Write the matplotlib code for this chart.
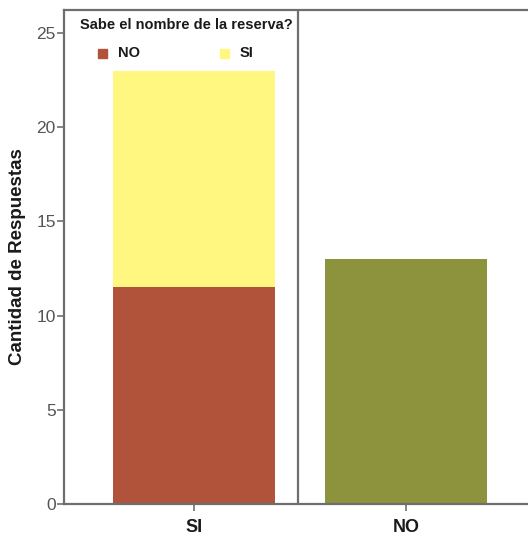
import matplotlib
matplotlib.use("Agg")
from matplotlib import pyplot as plt
from matplotlib.patches import Rectangle

plt.rcParams['font.family'] = ['Liberation Sans', 'DejaVu Sans']

# datos
categorias = ["SI", "NO"]
respuesta_no = [11.5, 0]     # parte "NO" de la leyenda
respuesta_si = [11.5, 0]     # parte "SI" de la leyenda
solo_no = [0, 13]            # barra unica de la categoria NO
leyenda_labels = ["NO", "SI"]
y_ticks = [0, 5, 10, 15, 20, 25]

color_no = "#b0533a"
color_si = "#fff77f"
color_olive = "#8c933c"
gris = "#6e6e6e"

W, H = 528, 535
fig = plt.figure(figsize=(W / 100, H / 100), dpi=100)
ax = fig.add_axes([64 / W, 1 - 504 / H, 1 - 64 / W, 494 / H])

x = list(range(len(categorias)))
w = 0.76
ax.bar(x[0], respuesta_no[0], width=w, color=color_no)
ax.bar(x[0], respuesta_si[0], bottom=respuesta_no[0], width=w, color=color_si)
ax.bar(x[1], solo_no[1], width=w, color=color_olive)

ax.set_xlim(-0.613, 1.575)
ax.set_ylim(0, 26.22)

# linea divisoria entre paneles
ax.axvline(0.49, color=gris, lw=1.6)

ax.set_xticks(x)
ax.set_xticklabels(categorias, fontsize=13, fontweight="bold", color="#1a1a1a")
ax.set_yticks(y_ticks)
ax.set_yticklabels([str(t) for t in y_ticks], fontsize=12.5, color="#555555")
ax.tick_params(axis="both", length=5, width=1.2, color=gris)
ax.tick_params(axis="x", pad=6)
ax.tick_params(axis="y", pad=1)

for s in ["left", "bottom", "top"]:
    ax.spines[s].set_color(gris)
    ax.spines[s].set_linewidth(1.6)
ax.spines["right"].set_visible(False)

ax.set_ylabel("Cantidad de Respuestas", fontsize=13.5, fontweight="bold", color="#1a1a1a")
ax.yaxis.set_label_coords((26 - 64) / (W - 64), 0.5)

# leyenda manual (estilo SPSS)
def fx(px):
    return px / W

def fy(py):
    return 1 - py / H

fig.text(fx(80), fy(25), "Sabe el nombre de la reserva?", fontsize=10.5,
         fontweight="bold", color="#1a1a1a", ha="left", va="center")
leg_x = [98, 220]
for lx, lab, col in zip(leg_x, leyenda_labels, [color_no, color_si]):
    fig.patches.append(Rectangle((fx(lx), fy(58)), 9 / W, 9 / H,
                                 transform=fig.transFigure, color=col))
    fig.text(fx(lx + 20), fy(53), lab, fontsize=10.5, fontweight="bold",
             color="#1a1a1a", ha="left", va="center")

fig.savefig("out.png", dpi=100)
